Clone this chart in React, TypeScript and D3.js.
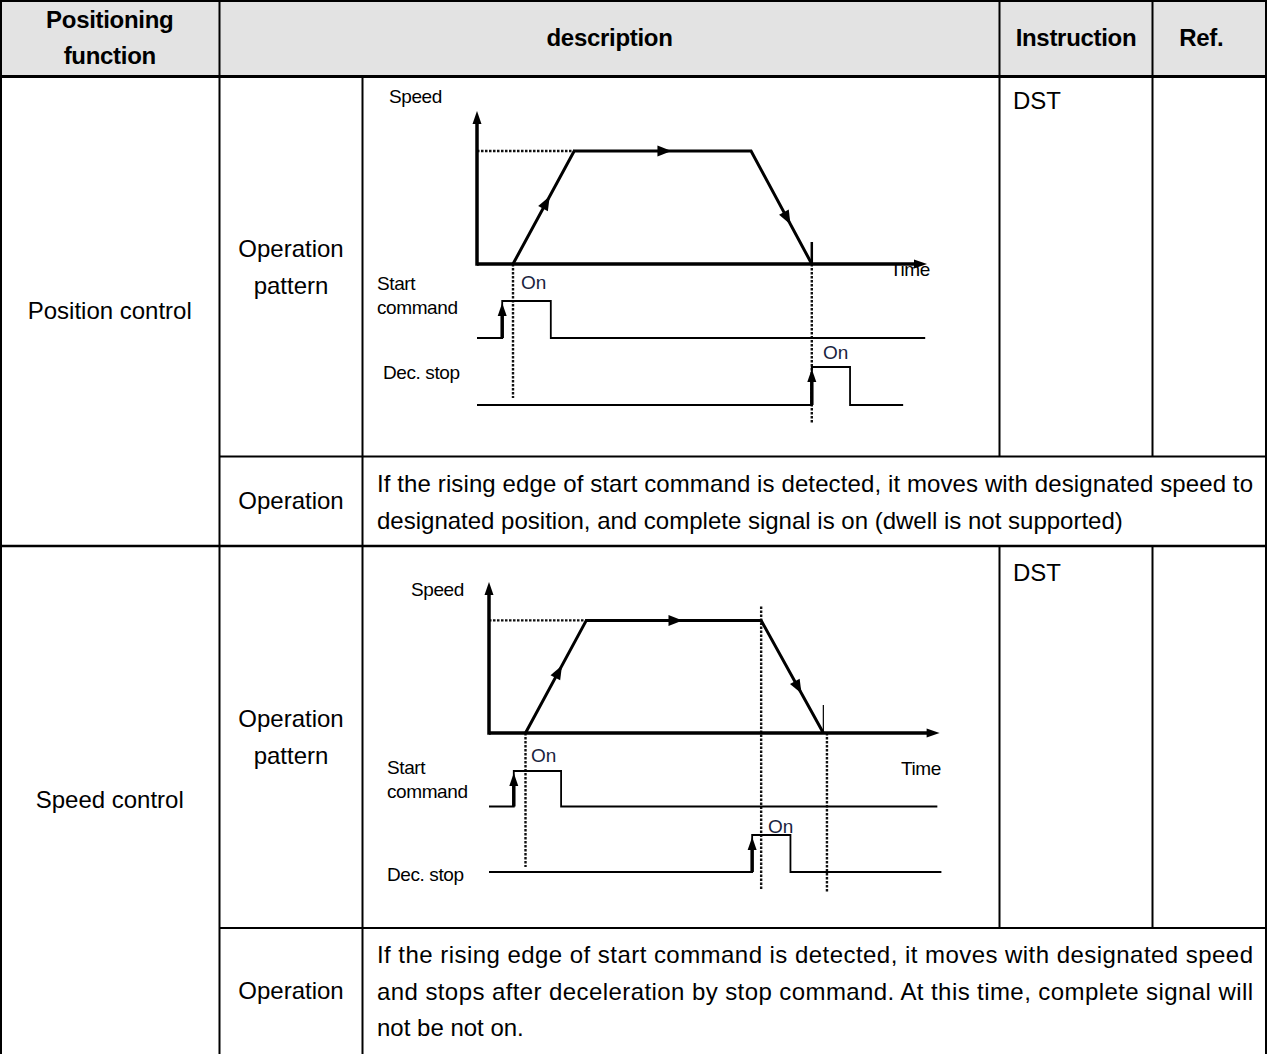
import React from 'react';
import * as d3 from 'd3';

// table text
const headerLabels = ['description', 'Instruction', 'Ref.'];
const headerFirst = ['Positioning', 'function'];
const functionNames = ['Position control', 'Speed control'];
const patternLabel = ['Operation', 'pattern'];
const operationLabel = 'Operation';
const instructions = ['DST', 'DST'];
const posOperationLines = [
  'If the rising edge of start command is detected, it moves with designated speed to',
  'designated position, and complete signal is on (dwell is not supported)',
];
const spdOperationLines = [
  'If the rising edge of start command is detected, it moves with designated speed',
  'and stops after deceleration by stop command. At this time, complete signal will',
  'not be not on.',
];

// diagram values: time in 0..100 units, speed 0..1
const profileSpeed = [0, 1, 1, 0];
const posProfileTime = [8, 21.6, 60.9, 74.4];
const posStartCmd = [5.6, 16.4, 99.6]; // on, off, end
const posDecStop = [74.4, 82.9, 94.7];
const posGuides = [8, 74.4];
const spdProfileTime = [8.1, 21.6, 60.4, 74.2];
const spdStartCmd = [5.5, 16.0, 99.5];
const spdDecStop = [58.4, 66.9, 100.4];
const spdGuides = [8.1, 60.4, 75.0];

const FONT = '"Liberation Sans", Arial, sans-serif';

const arrowHead = (x, y, dx, dy, len = 11, half = 4.5) => {
  const n = Math.hypot(dx, dy);
  const ux = dx / n, uy = dy / n;
  const bx = x - ux * len, by = y - uy * len;
  return `M${x},${y}L${bx - uy * half},${by + ux * half}L${bx + uy * half},${by - ux * half}Z`;
};

type DiagramProps = {
  xRange: [number, number];
  yRange: [number, number];
  axisTop: number;
  profileTime: number[];
  startCmd: number[];
  decStop: number[];
  guides: number[];
  guideSpan: Array<[number, number]>;
  startLane: [number, number];
  decLane: [number, number];
  endTick: [number, number, number];
  labels: { speed; time; on1; start; dec; on2 };
};

const Diagram = (p: DiagramProps) => {
  const x = d3.scaleLinear().domain([0, 100]).range(p.xRange);
  const y = d3.scaleLinear().domain([0, 1]).range(p.yRange);
  const line = d3.line<[number, number]>();
  const pts = p.profileTime.map((t, i) => [x(t), y(profileSpeed[i])] as [number, number]);
  const x0 = x(0), yBase = y(0);
  const dash = { stroke: '#111', strokeWidth: 2.4, strokeDasharray: '2.5,1.5' };

  const segArrow = (a, b, f) => {
    const px = a[0] + (b[0] - a[0]) * f, py = a[1] + (b[1] - a[1]) * f;
    return arrowHead(px, py, b[0] - a[0], b[1] - a[1], 14, 5.5);
  };

  const signal = (vals, lane) => {
    const [low, high] = lane;
    const [on, off, end] = vals.map(x);
    return line([[x0, low], [on, low], [on, high], [off, high], [off, low], [end, low]]);
  };

  const txt = { fontFamily: FONT, fontSize: 19, fill: '#000', letterSpacing: -0.4 };

  return (
    <g>
      {/* guides */}
      {p.guides.map((g, i) => (
        <line key={i} x1={x(g)} x2={x(g)} y1={p.guideSpan[i][0]} y2={p.guideSpan[i][1]} {...dash} />
      ))}
      <line x1={x0} x2={pts[1][0]} y1={y(1)} y2={y(1)} {...dash} />
      {/* axes */}
      <line x1={x0} x2={x0} y1={yBase + 1.75} y2={p.axisTop + 8} stroke="#000" strokeWidth={3.5} />
      <path d={arrowHead(x0, p.axisTop, 0, -1, 13, 4.5)} fill="#000" />
      <line x1={x0} x2={x(100) - 8} y1={yBase} y2={yBase} stroke="#000" strokeWidth={3.5} />
      <path d={arrowHead(x(100), yBase, 1, 0, 13, 4.5)} fill="#000" />
      {/* profile */}
      <path d={line(pts)} fill="none" stroke="#000" strokeWidth={3} strokeLinejoin="miter" />
      <path d={segArrow(pts[0], pts[1], 0.6)} fill="#000" />
      <path d={segArrow(pts[1], pts[2], 0.55)} fill="#000" />
      <path d={segArrow(pts[2], pts[3], 0.65)} fill="#000" />
      <line x1={x(p.endTick[0])} x2={x(p.endTick[0])} y1={p.endTick[1]} y2={yBase}
        stroke="#000" strokeWidth={p.endTick[2]} />
      {/* signals */}
      <path d={signal(p.startCmd, p.startLane)} fill="none" stroke="#000" strokeWidth={1.8} />
      <line x1={x(p.startCmd[0])} x2={x(p.startCmd[0])} y1={p.startLane[0]} y2={p.startLane[1] + 12}
        stroke="#000" strokeWidth={3.5} />
      <path d={arrowHead(x(p.startCmd[0]), p.startLane[1] + 2, 0, -1, 13, 4.5)} fill="#000" />
      <path d={signal(p.decStop, p.decLane)} fill="none" stroke="#000" strokeWidth={1.8} />
      <line x1={x(p.decStop[0])} x2={x(p.decStop[0])} y1={p.decLane[0]} y2={p.decLane[1] + 12}
        stroke="#000" strokeWidth={3.5} />
      <path d={arrowHead(x(p.decStop[0]), p.decLane[1] + 2, 0, -1, 13, 4.5)} fill="#000" />
      {/* labels */}
      <text x={p.labels.speed[0]} y={p.labels.speed[1]} style={txt}>Speed</text>
      <text x={p.labels.time[0]} y={p.labels.time[1]} style={txt}>Time</text>
      <text x={p.labels.start[0]} y={p.labels.start[1]} style={txt}>Start</text>
      <text x={p.labels.start[0]} y={p.labels.start[1] + 24} style={txt}>command</text>
      <text x={p.labels.dec[0]} y={p.labels.dec[1]} style={txt}>Dec. stop</text>
      <text x={p.labels.on1[0]} y={p.labels.on1[1]} style={{ ...txt, fill: '#1a1f3f', letterSpacing: 0 }}>On</text>
      <text x={p.labels.on2[0]} y={p.labels.on2[1]} style={{ ...txt, fill: '#1a1f3f', letterSpacing: 0 }}>On</text>
    </g>
  );
};

const colX = [0, 219.5, 362.5, 999.5, 1152.5, 1266];
const rowY = [0, 76.5, 456.5, 546, 928, 1054];

const App = () => {
  const W = 1267, H = 1054;
  const t = { fontFamily: FONT, fontSize: 24, fill: '#000' };
  const b = { fontFamily: FONT, fontSize: 24, fill: '#000', fontWeight: 700, letterSpacing: -0.3 };
  const hl = (y, x1, x2, w = 2) => <line x1={x1} x2={x2} y1={y} y2={y} stroke="#000" strokeWidth={w} />;
  const vl = (x, y1, y2, w = 2) => <line x1={x} x2={x} y1={y1} y2={y2} stroke="#000" strokeWidth={w} />;
  const c1 = (colX[0] + colX[1]) / 2;
  const c2 = (colX[1] + colX[2]) / 2;

  return (
    <svg width={W} height={H} style={{ position: 'absolute', left: 0, top: 0, background: '#fff' }}>
      <rect x={0} y={0} width={W} height={rowY[1]} fill="#e3e3e3" />
      {/* grid lines */}
      {hl(1, 0, W, 2)}
      {hl(rowY[1], 0, W, 3)}
      {hl(rowY[2], colX[1], W)}
      {hl(rowY[3], 0, W, 2.5)}
      {hl(rowY[4], colX[1], W)}
      {vl(1, 0, H, 2)}
      {vl(colX[1], 0, H)}
      {vl(colX[2], rowY[1], H)}
      {vl(colX[3], 0, rowY[2])}
      {vl(colX[3], rowY[3], rowY[4])}
      {vl(colX[4], 0, rowY[2])}
      {vl(colX[4], rowY[3], rowY[4])}
      {vl(W - 1, 0, H, 2)}

      {/* header */}
      <text x={c1} y={28} textAnchor="middle" style={b}>{headerFirst[0]}</text>
      <text x={c1} y={64} textAnchor="middle" style={b}>{headerFirst[1]}</text>
      <text x={(colX[1] + colX[3]) / 2} y={46} textAnchor="middle" style={b}>{headerLabels[0]}</text>
      <text x={(colX[3] + colX[4]) / 2} y={46} textAnchor="middle" style={b}>{headerLabels[1]}</text>
      <text x={(colX[4] + colX[5]) / 2 - 8} y={46} textAnchor="middle" style={b}>{headerLabels[2]}</text>

      {/* left columns */}
      <text x={c1} y={(rowY[1] + rowY[3]) / 2 + 8} textAnchor="middle" style={t}>{functionNames[0]}</text>
      <text x={c1} y={(rowY[3] + rowY[5]) / 2 + 8} textAnchor="middle" style={t}>{functionNames[1]}</text>
      {[[rowY[1], rowY[2]], [rowY[3], rowY[4]]].map(([a, bb], i) => (
        <g key={i}>
          <text x={c2} y={(a + bb) / 2 - 10} textAnchor="middle" style={t}>{patternLabel[0]}</text>
          <text x={c2} y={(a + bb) / 2 + 27} textAnchor="middle" style={t}>{patternLabel[1]}</text>
        </g>
      ))}
      <text x={c2} y={(rowY[2] + rowY[3]) / 2 + 8} textAnchor="middle" style={t}>{operationLabel}</text>
      <text x={c2} y={(rowY[4] + rowY[5]) / 2 + 8} textAnchor="middle" style={t}>{operationLabel}</text>

      {/* instruction */}
      <text x={1013} y={109} style={t}>{instructions[0]}</text>
      <text x={1013} y={581} style={t}>{instructions[1]}</text>

      {/* operation text */}
      {posOperationLines.map((s, i) => (
        <text key={i} x={377} y={492 + i * 37} style={t}
          {...(i === 0 ? { textLength: 876, lengthAdjust: 'spacing' } : {})}>{s}</text>
      ))}
      {spdOperationLines.map((s, i) => (
        <text key={i} x={377} y={963 + i * 36.5} style={t}
          {...(i < 2 ? { textLength: 876, lengthAdjust: 'spacing' } : {})}>{s}</text>
      ))}

      <Diagram
        xRange={[477, 927]}
        yRange={[264, 151]}
        axisTop={111}
        profileTime={posProfileTime}
        startCmd={posStartCmd}
        decStop={posDecStop}
        guides={posGuides}
        guideSpan={[[264, 398], [264, 423]]}
        startLane={[338, 301]}
        decLane={[405, 367]}
        endTick={[posProfileTime[3], 242, 2.5]}
        labels={{ speed: [389, 103], time: [890, 276], on1: [521, 289], start: [377, 289.5], dec: [383, 378.5], on2: [823, 358.5] }}
      />
      <Diagram
        xRange={[489, 939.6]}
        yRange={[733, 620.4]}
        axisTop={582}
        profileTime={spdProfileTime}
        startCmd={spdStartCmd}
        decStop={spdDecStop}
        guides={spdGuides}
        guideSpan={[[733, 867], [606.5, 889], [733, 892]]}
        startLane={[806.5, 771]}
        decLane={[872, 835]}
        endTick={[spdProfileTime[3], 705, 1.2]}
        labels={{ speed: [411, 595.5], time: [901, 774.5], on1: [531, 761.5], start: [387, 773.5], dec: [387, 880.5], on2: [768, 832.5] }}
      />
    </svg>
  );
};

export default App;
